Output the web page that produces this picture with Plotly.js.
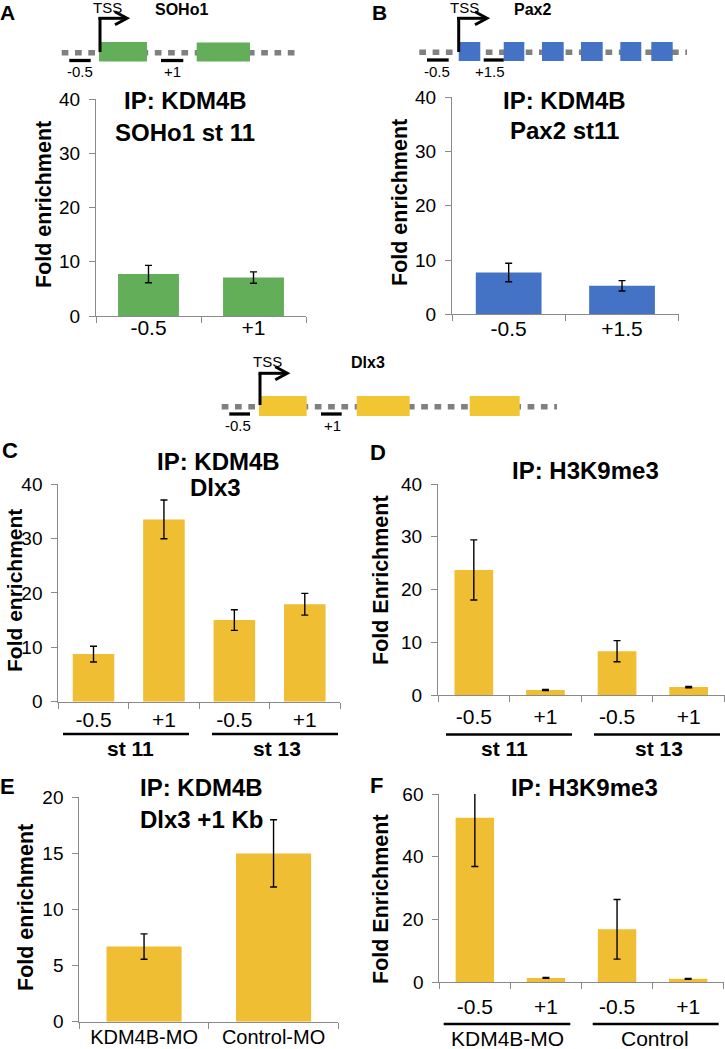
<!DOCTYPE html>
<html>
<head>
<meta charset="utf-8">
<script src="https://cdn.plot.ly/plotly-3.0.1.min.js"></script>
<style>html,body{margin:0;padding:0;background:#fff;}#chart{width:725px;height:1049px;}</style>
</head>
<body>
<div id="chart"></div>
<script>
// ---------------- data ----------------
const catsA = ['-0.5', '+1'];
const valsA = [7.75, 7.1];
const errA = [1.6, 1.05];

const catsB = ['-0.5', '+1.5'];
const valsB = [7.7, 5.25];
const errB = [1.7, 0.95];

const catsCD = ['-0.5', '+1', '-0.5\u200b', '+1\u200b'];
const valsC = [8.75, 33.5, 15.0, 17.9];
const errC = [1.45, 3.55, 1.9, 2.0];

const valsD = [23.7, 0.95, 8.3, 1.5];
const errD = [5.7, 0.12, 2.0, 0.12];

const catsE = ['KDM4B-MO', 'Control-MO'];
const valsE = [6.7, 15.0];
const errE = [1.13, 3.0];

const catsF = ['-0.5', '+1', '-0.5\u200b', '+1\u200b'];
const valsF = [52.4, 1.4, 16.9, 1.1];
const errFplus = [8.0, 0.15, 9.5, 0.12];
const errFminus = [15.5, 0.15, 9.5, 0.12];

const groupsCD = ['st 11', 'st 13'];
const groupsF = ['KDM4B-MO', 'Control'];

// ---------------- helpers ----------------
const W = 725, H = 1049;
const FONT = 'Liberation Sans, Arial, sans-serif';
const GREEN = '#63ae59', BLUE = '#4472c4', YELLOW = '#f0be32', GENEYEL = '#f2c633';
const AX = '#8a8a8a';
const fx = p => p / W;
const fy = p => 1 - p / H;

function xaxis(x0, x1, n, anchor, standoff, fsize) {
  return {
    domain: [fx(x0), fx(x1)], type: 'category', range: [-0.5, n - 0.5],
    showline: true, linecolor: AX, linewidth: 1, ticks: 'outside', tickson: 'boundaries',
    ticklen: 6, tickcolor: AX, tickwidth: 1, showgrid: false, zeroline: false,
    tickfont: {family: FONT, size: fsize || 21, color: '#000'}, anchor: anchor, fixedrange: true,
    ticklabelstandoff: standoff
  };
}
function yaxis(ytop, ybot, max, dt, anchor) {
  return {
    domain: [fy(ybot), fy(ytop)], range: [0, max], dtick: dt, tick0: 0,
    showline: true, linecolor: AX, linewidth: 1, ticks: 'outside', ticklen: 6,
    tickcolor: AX, tickwidth: 1, showgrid: false, zeroline: false,
    tickfont: {family: FONT, size: 19, color: '#000'}, anchor: anchor, fixedrange: true,
    ticklabelstandoff: 5
  };
}
function bars(cats, vals, err, color, xa, ya, width, errminus) {
  const e = {type: 'data', array: err, visible: true, color: '#000', thickness: 1.4, width: 3.5};
  if (errminus) { e.symmetric = false; e.arrayminus = errminus; }
  return {type: 'bar', x: cats, y: vals, xaxis: xa, yaxis: ya, width: width,
          marker: {color: color, line: {width: 0}}, error_y: e, hoverinfo: 'skip', showlegend: false};
}

const data = [
  bars(catsA, valsA, errA, GREEN, 'x', 'y', 0.58),
  bars(catsB, valsB, errB, BLUE, 'x2', 'y2', 0.58),
  bars(catsCD, valsC, errC, YELLOW, 'x3', 'y3', 0.59),
  bars(catsCD, valsD, errD, YELLOW, 'x4', 'y4', 0.54),
  bars(catsE, valsE, errE, YELLOW, 'x5', 'y5', 0.58),
  bars(catsF, valsF, errFplus, YELLOW, 'x6', 'y6', 0.54, errFminus)
];

// ---------------- annotations ----------------
const ann = [];
function txt(t, x, y, size, bold, extra) {
  const a = Object.assign({text: bold ? '<b>' + t + '</b>' : t, x: fx(x), y: fy(y), xref: 'paper', yref: 'paper',
    xanchor: 'center', yanchor: 'middle', showarrow: false,
    font: {family: FONT, size: size, color: '#000'}}, extra || {});
  ann.push(a);
}
// panel letters
txt('A', 8, 13, 21, true); txt('B', 379, 13, 21, true);
txt('C', 10, 450, 22, true); txt('D', 378, 452, 22, true);
txt('E', 8, 786, 22, true); txt('F', 376, 785, 22, true);
// chart titles
txt('IP: KDM4B', 185, 101, 24, true); txt('SOHo1 st 11', 185, 132, 24, true);
txt('IP: KDM4B', 564, 101, 24, true); txt('Pax2 st11', 564, 131, 24, true);
txt('IP: KDM4B', 218, 462, 24, true); txt('Dlx3', 216, 488, 24, true);
txt('IP: H3K9me3', 585, 470, 24, true);
txt('IP: KDM4B', 201, 787, 24, true); txt('Dlx3 +1 Kb', 202, 819, 24, true);
txt('IP: H3K9me3', 584, 787, 24, true);
// y axis titles
const yt = {textangle: -90};
txt('Fold enrichment', 44, 205, 21.5, true, yt);
txt('Fold enrichment', 400, 203, 21.5, true, yt);
txt('Fold enrichment', 14, 591, 21, true, yt);
txt('Fold Enrichment', 381, 580, 21.5, true, yt);
txt('Fold enrichment', 26, 908, 21.5, true, yt);
txt('Fold Enrichment', 381, 899, 21.5, true, yt);
// group labels
txt(groupsCD[0], 130, 748, 21, true); txt(groupsCD[1], 277, 748, 21, true);
txt(groupsCD[0], 504, 748, 21, true); txt(groupsCD[1], 659, 748, 21, true);
txt(groupsF[0], 507, 1038, 21, false); txt(groupsF[1], 655, 1038, 21, false);
// gene diagram text
txt('TSS', 107, 8, 15, false); txt('SOHo1', 182, 9, 16, true);
txt('-0.5', 80, 71, 15, false); txt('+1', 172, 71, 15, false);
txt('TSS', 465, 8, 15, false); txt('Pax2', 532, 9, 16, true);
txt('-0.5', 437, 71, 15, false); txt('+1.5', 490, 71, 15, false);
txt('TSS', 267, 361, 15, false); txt('Dlx3', 368, 362, 16, true);
txt('-0.5', 238, 425, 15, false); txt('+1', 332, 425, 15, false);

// ---------------- shapes ----------------
const shapes = [];
function line(x0, y0, x1, y1, color, w, dash) {
  shapes.push({type: 'line', xref: 'paper', yref: 'paper', x0: fx(x0), y0: fy(y0), x1: fx(x1), y1: fy(y1),
    line: {color: color, width: w, dash: dash || 'solid'}});
}
function rect(x0, y0, x1, y1, color) {
  shapes.push({type: 'rect', xref: 'paper', yref: 'paper', x0: fx(x0), y0: fy(y0), x1: fx(x1), y1: fy(y1),
    fillcolor: color, line: {width: 0}});
}
function chevron(x, y) {
  shapes.push({type: 'path', xref: 'paper', yref: 'paper',
    path: `M ${fx(x - 12)},${fy(y - 6.5)} L ${fx(x)},${fy(y)} L ${fx(x - 12)},${fy(y + 6.5)}`,
    line: {color: '#000', width: 3}});
}
const DASH = '6.7px,6.6px';
// Gene A: SOHo1
line(61.7, 52.7, 297.7, 52.7, '#808080', 5.5, DASH);
rect(99, 42, 147, 61.5, GREEN); rect(196.7, 42.5, 250, 61.5, GREEN);
line(100, 52, 100, 17, '#000', 3); line(98.5, 18.3, 126, 18.3, '#000', 3); chevron(127, 18.3);
line(69.3, 60.5, 90.7, 60.5, '#000', 3.3); line(161, 60.5, 183.3, 60.5, '#000', 3.3);
// Gene B: Pax2
line(419.3, 52.3, 687, 52.3, '#808080', 5.5, DASH);
[[458.7, 480.3], [503.7, 524.3], [542, 563.7], [581, 602.7], [620.3, 641.3], [651.3, 672.7]].forEach(b => rect(b[0], 42, b[1], 61, BLUE));
line(458.7, 52, 458.7, 17, '#000', 3); line(457.2, 18.3, 486, 18.3, '#000', 3); chevron(487, 18.3);
line(427, 60, 448.7, 60, '#000', 3.3); line(483.7, 60, 503.7, 60, '#000', 3.3);
// Gene Dlx3
line(221.7, 406.7, 557, 406.7, '#808080', 5.5, DASH);
rect(259, 396, 306.7, 416, GENEYEL); rect(356.7, 396, 409.7, 416, GENEYEL); rect(469.7, 396, 519.7, 416, GENEYEL);
line(260, 405, 260, 373.3, '#000', 3); line(258.5, 373.3, 286, 373.3, '#000', 3); chevron(287.3, 373.3);
line(229.3, 414, 250, 414, '#000', 3.3); line(321, 414, 341.7, 414, '#000', 3.3);
// group underlines
line(63, 734, 189, 734, '#000', 2.5); line(212, 734, 338, 734, '#000', 2.5);
line(446, 734.5, 572, 734.5, '#000', 2.5); line(594, 734.5, 720, 734.5, '#000', 2.5);
line(443.7, 1024, 570.3, 1024, '#000', 2.5); line(592.7, 1024, 718.7, 1024, '#000', 2.5);

const layout = {
  width: W, height: H, margin: {l: 0, r: 0, t: 0, b: 0}, paper_bgcolor: '#fff', plot_bgcolor: 'rgba(0,0,0,0)',
  font: {family: FONT, color: '#000'}, showlegend: false,
  xaxis: xaxis(96, 306, 2, 'y', -7), yaxis: yaxis(99.3, 316, 40, 10, 'x'),
  xaxis2: xaxis(452, 678.7, 2, 'y2', -5), yaxis2: yaxis(97.3, 314.3, 40, 10, 'x2'),
  xaxis3: xaxis(58.3, 340, 4, 'y3', -1), yaxis3: yaxis(484, 701.7, 40, 10, 'x3'),
  xaxis4: xaxis(438, 724.5, 4, 'y4', 3), yaxis4: yaxis(484, 695, 40, 10, 'x4'),
  xaxis5: xaxis(79.3, 338.3, 2, 'y5', -3, 20), yaxis5: yaxis(797.3, 1021.7, 20, 5, 'x5'),
  xaxis6: xaxis(439.3, 723.7, 4, 'y6', 5), yaxis6: yaxis(794, 982.3, 60, 20, 'x6'),
  annotations: ann, shapes: shapes
};

Plotly.newPlot('chart', data, layout, {displayModeBar: false, staticPlot: true});
</script>
</body>
</html>
